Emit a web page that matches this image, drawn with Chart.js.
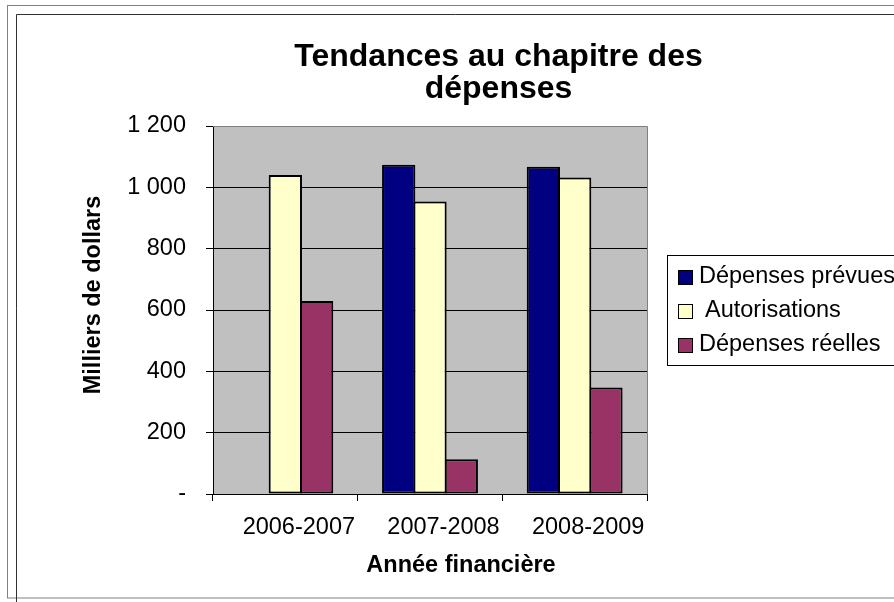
<!DOCTYPE html>
<html>
<head>
<meta charset="utf-8">
<script src="https://cdn.jsdelivr.net/npm/chart.js@4.4.0/dist/chart.umd.min.js"></script>
<style>
  html, body { margin: 0; padding: 0; background: #fff; overflow: hidden; }
  canvas { display: block; }
</style>
</head>
<body>
<canvas id="chart" width="894" height="602"></canvas>
<script>
const categories = ["2006-2007", "2007-2008", "2008-2009"];
const seriesNames = ["Dépenses prévues", "Autorisations", "Dépenses réelles"];
const depensesPrevues = [null, 1074, 1067];
const autorisations = [1040, 954, 1032];
const depensesReelles = [629, 113, 347];
const yTicks = [0, 200, 400, 600, 800, 1000, 1200];
const chartTitle = ["Tendances au chapitre des", "dépenses"];
const xTitle = "Année financière";
const yTitle = "Milliers de dollars";

const FONT = "'Liberation Sans', Arial, sans-serif";
const colors = ["#000080", "#FFFFCC", "#993366"];

function formatTick(v) {
    if (v === 0) return "-";
    return String(v).replace(/\B(?=(\d{3})+(?!\d))/g, " ");
}

// background, frames, titles and legend
const decor = {
    id: "decor",
    beforeDraw(chart) {
        const ctx = chart.ctx;
        const a = chart.chartArea;
        ctx.save();
        ctx.fillStyle = "#fff";
        ctx.fillRect(0, 0, chart.width, chart.height);
        ctx.lineWidth = 1;
        ctx.strokeStyle = "#808080";
        ctx.strokeRect(7.5, 5.5, 1000, 592.5);
        ctx.strokeStyle = "#303030";
        ctx.beginPath();
        ctx.moveTo(16.5, 602);
        ctx.lineTo(16.5, 14.5);
        ctx.lineTo(chart.width, 14.5);
        ctx.stroke();
        ctx.fillStyle = "#C0C0C0";
        ctx.fillRect(a.left, a.top, a.right - a.left, a.bottom - a.top);
        ctx.restore();
    },
    afterDraw(chart) {
        const ctx = chart.ctx;
        const a = chart.chartArea;
        ctx.save();
        // plot border top/right
        ctx.strokeStyle = "#808080";
        ctx.lineWidth = 1;
        ctx.beginPath();
        ctx.moveTo(a.left, a.top + 0.5);
        ctx.lineTo(a.right + 0.5, a.top + 0.5);
        ctx.lineTo(a.right + 0.5, a.bottom);
        ctx.stroke();

        ctx.fillStyle = "#000";
        ctx.textAlign = "center";
        ctx.textBaseline = "alphabetic";
        ctx.font = "bold 32px " + FONT;
        ctx.fillText(chartTitle[0], 498.5, 66);
        ctx.fillText(chartTitle[1], 498.5, 98);

        ctx.font = "bold 23.5px " + FONT;
        ctx.textBaseline = "middle";
        ctx.fillText(xTitle, 461, 566);
        ctx.save();
        ctx.translate(94, 295);
        ctx.rotate(-Math.PI / 2);
        ctx.fillText(yTitle, 0, 0);
        ctx.restore();

        // legend
        const lx = 667, ly = 255, lh = 110;
        ctx.fillStyle = "#fff";
        ctx.fillRect(lx, ly, 400, lh);
        ctx.strokeStyle = "#000";
        ctx.strokeRect(lx + 0.5, ly + 0.5, 400, lh);
        ctx.font = "23.5px " + FONT;
        ctx.textAlign = "left";
        chart.data.datasets.forEach((ds, i) => {
            const cy = 277 + i * 34;
            ctx.fillStyle = ds.backgroundColor;
            ctx.fillRect(678, cy - 7, 15, 15);
            ctx.strokeRect(678.5, cy - 6.5, 14, 14);
            ctx.fillStyle = "#000";
            ctx.fillText(ds.label, i === 1 ? 705 : 699, cy);
        });
        ctx.restore();
    }
};

const seriesValues = [depensesPrevues, autorisations, depensesReelles];

new Chart(document.getElementById("chart"), {
    type: "bar",
    data: {
        labels: categories,
        datasets: seriesNames.map((name, i) => ({
            label: name,
            data: seriesValues[i],
            backgroundColor: colors[i],
            borderColor: "#000",
            borderWidth: 2,
            borderSkipped: false,
            // bars overlap by their border width so neighbours share one edge
            categoryPercentage: 0.649,
            barPercentage: 1.064
        }))
    },
    options: {
        responsive: false,
        animation: false,
        layout: { padding: { top: 126, right: 247, left: 0, bottom: 0 } },
        plugins: {
            legend: { display: false },
            title: { display: false },
            tooltip: { enabled: false }
        },
        scales: {
            x: {
                afterFit(scale) { scale.height = 108; },
                grid: {
                    offset: true,
                    drawOnChartArea: false,
                    drawTicks: true,
                    tickLength: 7,
                    color: "#000",
                    tickColor: "#000"
                },
                border: { display: true, color: "#000", width: 1 },
                ticks: {
                    color: "#000",
                    font: { family: FONT, size: 23.5 },
                    padding: 12,
                    labelOffset: 13.5,
                    maxRotation: 0
                }
            },
            y: {
                min: 0,
                max: 1200,
                afterFit(scale) { scale.width = 213; },
                afterBuildTicks(scale) { scale.ticks = yTicks.map(v => ({ value: v })); },
                grid: {
                    drawTicks: true,
                    tickLength: 7,
                    color: ctx => (ctx.tick && ctx.tick.value === 1200 ? "#808080" : "#000"),
                    tickColor: "#000"
                },
                border: { display: true, color: "#000", width: 1 },
                ticks: {
                    color: "#000",
                    font: { family: FONT, size: 23.5 },
                    padding: 20,
                    callback: v => formatTick(v)
                }
            }
        }
    },
    plugins: [decor]
});
</script>
</body>
</html>
